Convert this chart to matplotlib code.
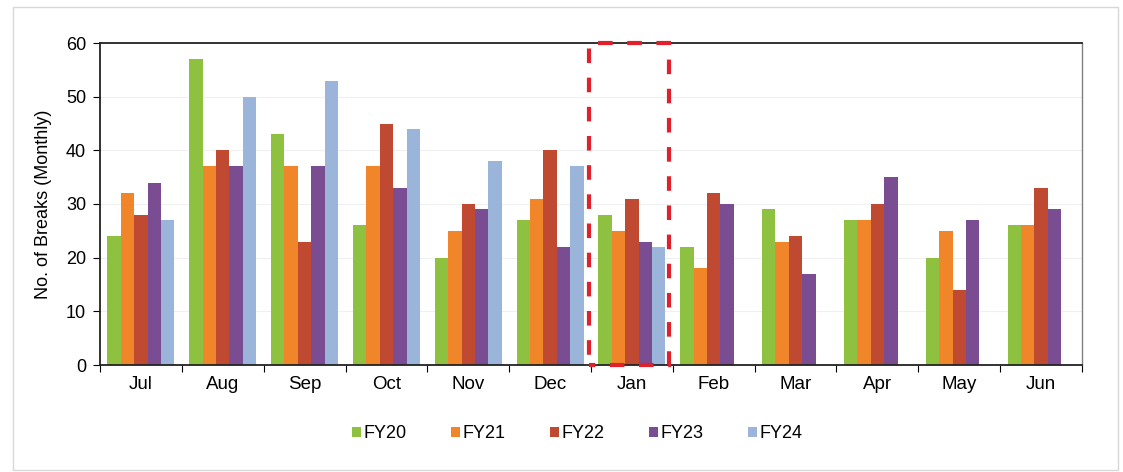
import numpy as np
import matplotlib
matplotlib.use('Agg')
import matplotlib.pyplot as plt
from matplotlib.patches import Rectangle

plt.rcParams['font.family'] = ['Liberation Sans', 'DejaVu Sans']

months = ['Jul', 'Aug', 'Sep', 'Oct', 'Nov', 'Dec', 'Jan', 'Feb', 'Mar', 'Apr', 'May', 'Jun']
series = ['FY20', 'FY21', 'FY22', 'FY23', 'FY24']

fy20 = [24, 57, 43, 26, 20, 27, 28, 22, 29, 27, 20, 26]
fy21 = [32, 37, 37, 37, 25, 31, 25, 18, 23, 27, 25, 26]
fy22 = [28, 40, 23, 45, 30, 40, 31, 32, 24, 30, 14, 33]
fy23 = [34, 37, 37, 33, 29, 22, 23, 30, 17, 35, 27, 29]
fy24 = [27, 50, 53, 44, 38, 37, 22, np.nan, np.nan, np.nan, np.nan, np.nan]

colors = ['#8dc13f', '#f0852a', '#bf4a31', '#7a4c91', '#9bb5da']

fig = plt.figure(figsize=(11.23, 4.72), dpi=100)
fig.patch.set_facecolor('white')
# faint frame around the whole chart
fig.patches.append(Rectangle((13/1123, 1 - 470/472), 1105/1123, 463/472,
                             transform=fig.transFigure, fill=False,
                             edgecolor='#d8d8d8', lw=1))

ax = fig.add_axes([100/1123, 1 - 365/472, 982/1123, 322/472])

x = np.arange(len(months))
w = 0.164
for k, (vals, name) in enumerate(zip([fy20, fy21, fy22, fy23, fy24], series)):
    ax.bar(x + (k - 2) * w, vals, width=w, color=colors[k], label=name, zorder=2)

ax.set_xlim(-0.5, 11.5)
ax.set_ylim(0, 60)
ax.set_yticks(range(0, 61, 10))
ax.yaxis.grid(True, color='#f0f0f0', lw=0.8, zorder=0)
ax.tick_params(axis='y', labelsize=13, length=5, direction='out', width=0.8, pad=5)

ax.set_xticks(np.arange(-0.5, 12, 1))
ax.set_xticklabels([])
ax.set_xticks(x, minor=True)
ax.set_xticklabels(months, minor=True, fontsize=13.5)
ax.tick_params(axis='x', which='major', length=5, direction='out', width=0.8)
ax.tick_params(axis='x', which='minor', length=0, pad=8)

ax.set_ylabel('No. of Breaks (Monthly)', fontsize=13, labelpad=10)

for s in ['left', 'top', 'bottom']:
    ax.spines[s].set_color('#222222')
    ax.spines[s].set_linewidth(1.3)
ax.spines['right'].set_color('#808080')
ax.spines['right'].set_linewidth(1)

# red dashed highlight around January
rect = Rectangle((5.476, 0), 0.977, 60, fill=False, edgecolor='#e0202a',
                 lw=3, linestyle=(2, (3.5, 3.5)), clip_on=False, zorder=5)
ax.add_patch(rect)

handles, labels = ax.get_legend_handles_labels()
fig.legend(handles, labels, ncol=5, loc='center',
           bbox_to_anchor=(577/1123, 1 - 434/472), frameon=False,
           fontsize=13, handlelength=0.5, handleheight=0.5,
           handletextpad=0.15, columnspacing=2.45)

fig.savefig('out.png', dpi=100)
